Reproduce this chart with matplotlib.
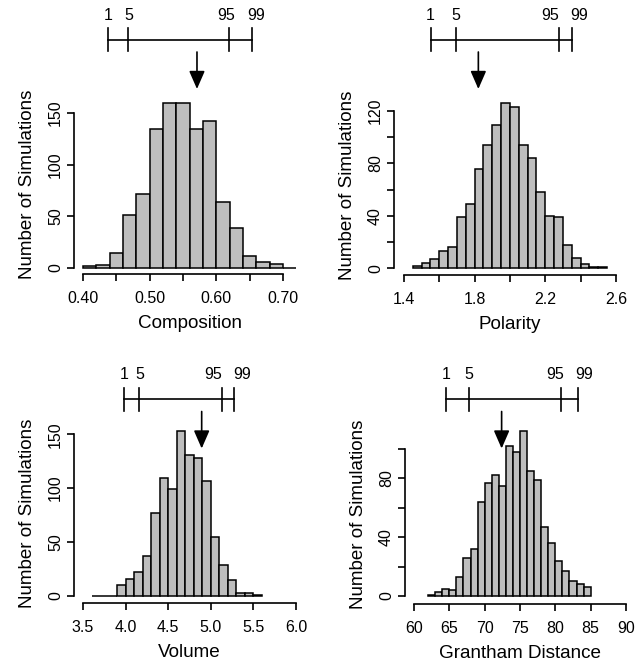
import matplotlib
matplotlib.use("Agg")
import matplotlib.pyplot as plt
import matplotlib.transforms as mtransforms
import numpy as np

plt.rcParams['font.family'] = ['Liberation Sans', 'DejaVu Sans']

W, H = 641, 663

# histogram counts, bins start + width
comp_start, comp_width = 0.40, 0.02
comp_counts = [1, 2, 14, 51, 71, 135, 160, 160, 135, 142, 64, 38, 11, 5, 3, 0]
comp_pct = [0.4375, 0.468, 0.619, 0.653]
comp_obs = 0.571

pol_start, pol_width = 1.45, 0.05
pol_counts = [2, 4, 7, 13, 16, 39, 49, 76, 94, 109, 126, 123, 94, 84, 58, 40,
              39, 18, 8, 3, 1, 1]
pol_pct = [1.551, 1.696, 2.275, 2.349]
pol_obs = 1.821

vol_start, vol_width = 3.6, 0.1
vol_counts = [0, 0, 0, 10, 16, 22, 37, 77, 109, 99, 153, 131, 128, 107, 55, 29,
              15, 3, 3, 1]
vol_pct = [3.981, 4.161, 5.135, 5.276]
vol_obs = 4.893

gran_start, gran_width = 62, 1
gran_counts = [1, 3, 5, 4, 13, 26, 32, 64, 77, 82, 75, 102, 98, 112, 85, 79, 47,
               36, 24, 17, 10, 8, 6]
gran_pct = [64.6, 67.8, 80.8, 83.2]
gran_obs = 72.4

pct_names = ['1', '5', '95', '99']

fig = plt.figure(figsize=(W / 100, H / 100), dpi=100)


def px_axes(left, top, right, bottom):
    return fig.add_axes([left / W, 1 - bottom / H, (right - left) / W, (bottom - top) / H])


def panel(ax, start, width, counts, pct, obs, xlim, ylim, xticks, xshow, xfmt,
          yticks, yshow, xlabel, row_top, label_shift):
    counts = np.array(counts)
    lefts = start + width * np.arange(len(counts))
    ax.bar(lefts, counts, width=width, align='edge', color='#BEBEBE',
           edgecolor='black', linewidth=1.1)
    ax.set_xlim(*xlim)
    ax.set_ylim(*ylim)
    ax.set_xticks(xticks)
    ax.set_xticklabels([xfmt % t if s else '' for t, s in zip(xticks, xshow)])
    ax.set_yticks(yticks)
    ax.set_yticklabels([str(t) if s else '' for t, s in zip(yticks, yshow)],
                       rotation=90, va='center')
    for s in ['top', 'right']:
        ax.spines[s].set_visible(False)
    ax.spines['left'].set_bounds(yticks[0], yticks[-1])
    ax.spines['bottom'].set_bounds(xticks[0], xticks[-1])
    for s in ['left', 'bottom']:
        ax.spines[s].set_linewidth(1.2)
    ax.tick_params(length=5, width=1.2, pad=7, labelsize=11.5)
    ax.tick_params(axis='y', pad=3)
    ax.set_xlabel(xlabel, fontsize=13.6, labelpad=7)
    ax.set_ylabel('Number of Simulations', fontsize=13.5, labelpad=8.5)

    # percentile bar and observed-value arrow, above the plot region
    trans = mtransforms.blended_transform_factory(ax.transData, fig.transFigure)
    ybar = 1 - (row_top + 39.5) / H
    half = 11.5 / H
    ax.plot([pct[0], pct[-1]], [ybar, ybar], color='black', lw=1.2,
            transform=trans, clip_on=False)
    for p, name, dx in zip(pct, pct_names, label_shift):
        ax.plot([p, p], [ybar - half, ybar + half], color='black', lw=1.2,
                transform=trans, clip_on=False)
        t = trans + mtransforms.ScaledTranslation(dx / 100, 0, fig.dpi_scale_trans)
        ax.text(p, 1 - (row_top + 15) / H, name, transform=t,
                ha='center', va='center', fontsize=11.5)
    ax.annotate('', xy=(obs, 1 - (row_top + 89) / H),
                xytext=(obs, 1 - (row_top + 52) / H),
                xycoords=trans, textcoords=trans,
                arrowprops=dict(arrowstyle='-|>,head_length=0.55,head_width=0.24',
                                mutation_scale=20, color='black', lw=1.2,
                                shrinkA=0, shrinkB=0))


ax1 = px_axes(74, 95.3, 305.3, 274)
panel(ax1, comp_start, comp_width, comp_counts, comp_pct, comp_obs,
      (0.3865, 0.7335), (-6.3, 167.3),
      [0.40, 0.45, 0.50, 0.55, 0.60, 0.65, 0.70],
      [1, 0, 1, 0, 1, 0, 1], '%.2f', [0, 50, 100, 150], [1, 1, 1, 1],
      'Composition', 0, [0, 0, -3, 4.3])

ax2 = px_axes(394, 96.5, 626, 275)
panel(ax2, pol_start, pol_width, pol_counts, pol_pct, pol_obs,
      (1.3434, 2.657), (-5.1, 131),
      [1.4, 1.6, 1.8, 2.0, 2.2, 2.4, 2.6],
      [1, 0, 1, 0, 1, 0, 1], '%.1f', [0, 20, 40, 60, 80, 100, 120],
      [1, 0, 1, 0, 1, 0, 1], 'Polarity', 0, [0, 0, -8.5, 7.5])

ax3 = px_axes(74, 424.5, 305, 603)
panel(ax3, vol_start, vol_width, vol_counts, vol_pct, vol_obs,
      (3.394, 6.106), (-6.5, 159),
      [3.5, 4.0, 4.5, 5.0, 5.5, 6.0],
      [1, 1, 1, 1, 1, 1], '%.1f', [0, 50, 100, 150], [1, 1, 1, 1],
      'Volume', 359.5, [0, 0, -9, 7.5])

ax4 = px_axes(405, 424.6, 635, 604)
panel(ax4, gran_start, gran_width, gran_counts, gran_pct, gran_obs,
      (58.73, 91.27), (-5.4, 116.5),
      [60, 65, 70, 75, 80, 85, 90],
      [1, 1, 1, 1, 1, 1, 1], '%d', [0, 20, 40, 60, 80, 100],
      [1, 0, 1, 0, 1, 0], 'Grantham Distance', 359.5, [0, 0, -5.5, 6])

fig.savefig('out.png', dpi=100)
